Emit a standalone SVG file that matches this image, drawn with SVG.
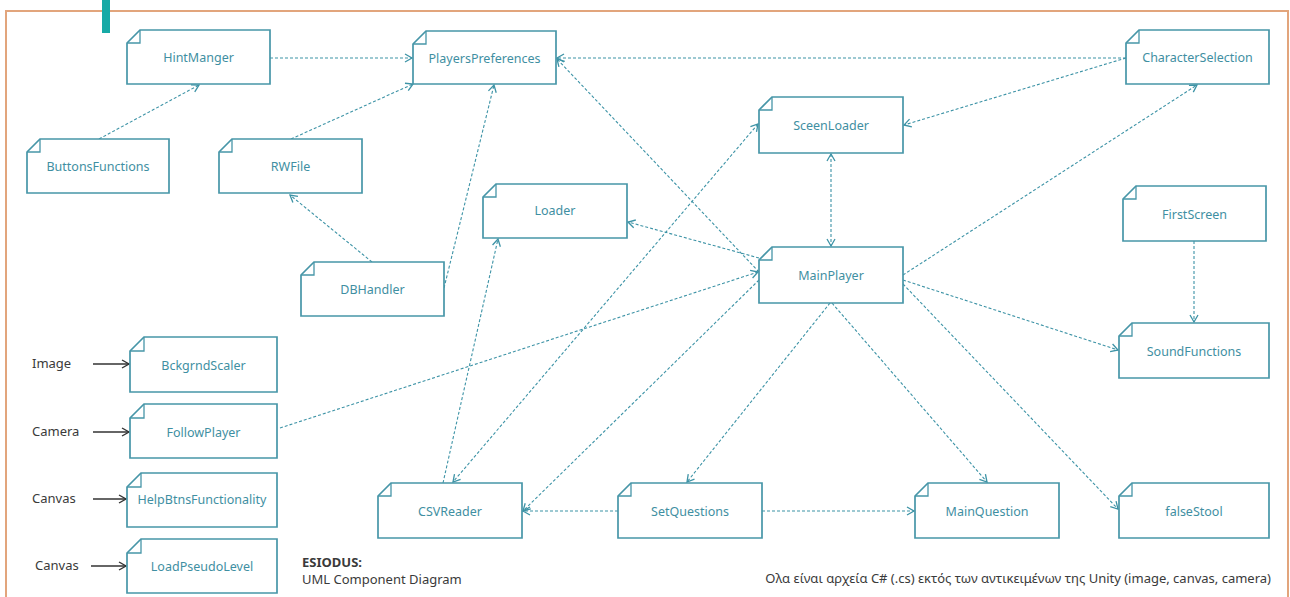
<svg xmlns="http://www.w3.org/2000/svg" width="1290" height="597" viewBox="0 0 1290 597">
  <defs>
    <marker id="arr" markerUnits="userSpaceOnUse" markerWidth="12" markerHeight="12" refX="8" refY="5" orient="auto-start-reverse" viewBox="0 0 12 10">
      <path d="M1,1 L8,5 L1,9" fill="none" stroke="#3d93a6" stroke-width="1.3"/>
    </marker>
    <marker id="arrDark" markerUnits="userSpaceOnUse" markerWidth="12" markerHeight="12" refX="8" refY="5" orient="auto" viewBox="0 0 12 10">
      <path d="M1,1 L8,5 L1,9" fill="none" stroke="#333" stroke-width="1.4"/>
    </marker>
  </defs>
  <style>
    .box { fill: #ffffff; stroke: #4796a8; stroke-width: 1.7; }
    .fold { fill: none; stroke: #4796a8; stroke-width: 1.3; }
    .lbl { font-family: "Noto Sans", "Open Sans", sans-serif; font-size: 12.5px; fill: #3f8fa2; text-anchor: middle; }
    .dep { fill: none; stroke: #3d93a6; stroke-width: 1.1; stroke-dasharray: 3 2; }
    .solid { fill: none; stroke: #333; stroke-width: 1.4; }
    .note { font-family: "Noto Sans", "Open Sans", sans-serif; font-size: 13px; fill: #3a3a3a; }
  </style>

  <rect width="1290" height="597" fill="#ffffff"/>
  <!-- outer frame and accent bar -->
  <path d="M6,600 V11 H1288 V600" fill="none" stroke="#e2a57c" stroke-width="2"/>
  <rect x="102" y="0" width="8" height="33" fill="#17aaa6"/>

  <!-- dependencies -->
  <g id="connectors">
    <line class="dep" x1="270" y1="58" x2="412" y2="58" marker-end="url(#arr)"/>
    <line class="dep" x1="99" y1="139" x2="199" y2="85" marker-end="url(#arr)"/>
    <line class="dep" x1="291" y1="139" x2="413" y2="84" marker-end="url(#arr)"/>
    <line class="dep" x1="372" y1="262" x2="290" y2="195" marker-end="url(#arr)"/>
    <line class="dep" x1="444" y1="288" x2="494" y2="85" marker-end="url(#arr)"/>
    <line class="dep" x1="1126" y1="58" x2="557" y2="58" marker-end="url(#arr)"/>
    <line class="dep" x1="1126" y1="58" x2="904" y2="125" marker-end="url(#arr)"/>
    <line class="dep" x1="759" y1="272" x2="557" y2="59" marker-end="url(#arr)"/>
    <line class="dep" x1="759" y1="258" x2="628" y2="222" marker-end="url(#arr)"/>
    <line class="dep" x1="280" y1="428" x2="758" y2="272" marker-end="url(#arr)"/>
    <line class="dep" x1="759" y1="280" x2="523" y2="511" marker-end="url(#arr)"/>
    <line class="dep" x1="443" y1="483" x2="498" y2="239" marker-end="url(#arr)"/>
    <line class="dep" x1="758" y1="124" x2="453" y2="482" marker-start="url(#arr)" marker-end="url(#arr)"/>
    <line class="dep" x1="831" y1="154" x2="831" y2="246" marker-start="url(#arr)" marker-end="url(#arr)"/>
    <line class="dep" x1="903" y1="275" x2="1197" y2="85" marker-end="url(#arr)"/>
    <line class="dep" x1="903" y1="280" x2="1118" y2="350" marker-end="url(#arr)"/>
    <line class="dep" x1="1194" y1="241" x2="1194" y2="322" marker-end="url(#arr)"/>
    <line class="dep" x1="903" y1="284" x2="1118" y2="509" marker-end="url(#arr)"/>
    <line class="dep" x1="832" y1="303" x2="987" y2="482" marker-end="url(#arr)"/>
    <line class="dep" x1="830" y1="303" x2="687" y2="482" marker-end="url(#arr)"/>
    <line class="dep" x1="762" y1="511" x2="914" y2="511" marker-end="url(#arr)"/>
    <line class="dep" x1="618" y1="511" x2="523" y2="511" marker-end="url(#arr)"/>
    <!-- Unity object bindings -->
    <line class="solid" x1="93" y1="364" x2="129" y2="364" marker-end="url(#arrDark)"/>
    <line class="solid" x1="93" y1="432" x2="129" y2="432" marker-end="url(#arrDark)"/>
    <line class="solid" x1="93" y1="499" x2="126" y2="499" marker-end="url(#arrDark)"/>
    <line class="solid" x1="91" y1="566" x2="126" y2="566" marker-end="url(#arrDark)"/>
  </g>

  <!-- components -->
  <g id="HintManger" transform="translate(127,30)">
    <path class="box" d="M0,13 L13,0 H143 V54 H0 Z"/><path class="fold" d="M0,13 H13 V0"/>
    <text class="lbl" x="71.5" y="31.5">HintManger</text>
  </g>
  <g id="ButtonsFunctions" transform="translate(27,139)">
    <path class="box" d="M0,13 L13,0 H142 V54 H0 Z"/><path class="fold" d="M0,13 H13 V0"/>
    <text class="lbl" x="71" y="32">ButtonsFunctions</text>
  </g>
  <g id="RWFile" transform="translate(219,139)">
    <path class="box" d="M0,13 L13,0 H143 V54 H0 Z"/><path class="fold" d="M0,13 H13 V0"/>
    <text class="lbl" x="71.5" y="32">RWFile</text>
  </g>
  <g id="DBHandler" transform="translate(301,262)">
    <path class="box" d="M0,13 L13,0 H143 V54 H0 Z"/><path class="fold" d="M0,13 H13 V0"/>
    <text class="lbl" x="71.5" y="32">DBHandler</text>
  </g>
  <g id="PlayersPreferences" transform="translate(413,31)">
    <path class="box" d="M0,13 L13,0 H143 V53 H0 Z"/><path class="fold" d="M0,13 H13 V0"/>
    <text class="lbl" x="71.5" y="31.5">PlayersPreferences</text>
  </g>
  <g id="CharacterSelection" transform="translate(1126,30)">
    <path class="box" d="M0,13 L13,0 H143 V54 H0 Z"/><path class="fold" d="M0,13 H13 V0"/>
    <text class="lbl" x="71.5" y="32">CharacterSelection</text>
  </g>
  <g id="SceenLoader" transform="translate(759,97)">
    <path class="box" d="M0,13 L13,0 H144 V56 H0 Z"/><path class="fold" d="M0,13 H13 V0"/>
    <text class="lbl" x="72" y="32.5">SceenLoader</text>
  </g>
  <g id="MainPlayer" transform="translate(759,247)">
    <path class="box" d="M0,13 L13,0 H144 V56 H0 Z"/><path class="fold" d="M0,13 H13 V0"/>
    <text class="lbl" x="72" y="32.5">MainPlayer</text>
  </g>
  <g id="Loader" transform="translate(483,184)">
    <path class="box" d="M0,13 L13,0 H144 V54 H0 Z"/><path class="fold" d="M0,13 H13 V0"/>
    <text class="lbl" x="72" y="31">Loader</text>
  </g>
  <g id="FirstScreen" transform="translate(1123,186)">
    <path class="box" d="M0,13 L13,0 H143 V55 H0 Z"/><path class="fold" d="M0,13 H13 V0"/>
    <text class="lbl" x="71.5" y="33">FirstScreen</text>
  </g>
  <g id="SoundFunctions" transform="translate(1119,323)">
    <path class="box" d="M0,13 L13,0 H150 V55 H0 Z"/><path class="fold" d="M0,13 H13 V0"/>
    <text class="lbl" x="75" y="33">SoundFunctions</text>
  </g>
  <g id="CSVReader" transform="translate(378,483)">
    <path class="box" d="M0,13 L13,0 H144 V55 H0 Z"/><path class="fold" d="M0,13 H13 V0"/>
    <text class="lbl" x="72" y="33">CSVReader</text>
  </g>
  <g id="SetQuestions" transform="translate(618,483)">
    <path class="box" d="M0,13 L13,0 H144 V55 H0 Z"/><path class="fold" d="M0,13 H13 V0"/>
    <text class="lbl" x="72" y="33">SetQuestions</text>
  </g>
  <g id="MainQuestion" transform="translate(915,483)">
    <path class="box" d="M0,13 L13,0 H144 V55 H0 Z"/><path class="fold" d="M0,13 H13 V0"/>
    <text class="lbl" x="72" y="33">MainQuestion</text>
  </g>
  <g id="falseStool" transform="translate(1119,483)">
    <path class="box" d="M0,13 L13,0 H150 V55 H0 Z"/><path class="fold" d="M0,13 H13 V0"/>
    <text class="lbl" x="75" y="33">falseStool</text>
  </g>
  <g id="BckgrndScaler" transform="translate(130,337)">
    <path class="box" d="M0,14 L14,0 H147 V55 H0 Z"/><path class="fold" d="M0,14 H14 V0"/>
    <text class="lbl" x="73.5" y="32.5">BckgrndScaler</text>
  </g>
  <g id="FollowPlayer" transform="translate(130,404)">
    <path class="box" d="M0,14 L14,0 H147 V54 H0 Z"/><path class="fold" d="M0,14 H14 V0"/>
    <text class="lbl" x="73.5" y="33">FollowPlayer</text>
  </g>
  <g id="HelpBtnsFunctionality" transform="translate(127,473)">
    <path class="box" d="M0,14 L14,0 H150 V54 H0 Z"/><path class="fold" d="M0,14 H14 V0"/>
    <text class="lbl" x="75" y="31">HelpBtnsFunctionality</text>
  </g>
  <g id="LoadPseudoLevel" transform="translate(127,539)">
    <path class="box" d="M0,14 L14,0 H150 V54 H0 Z"/><path class="fold" d="M0,14 H14 V0"/>
    <text class="lbl" x="75" y="32">LoadPseudoLevel</text>
  </g>

  <!-- Unity object labels -->
  <text class="note" x="32" y="368">Image</text>
  <text class="note" x="32" y="436">Camera</text>
  <text class="note" x="32" y="503">Canvas</text>
  <text class="note" x="35" y="570">Canvas</text>

  <!-- caption -->
  <text class="note" x="302" y="567" font-weight="bold">ESIODUS:</text>
  <text class="note" x="302" y="584">UML Component Diagram</text>
  <text class="note" x="1271" y="583" text-anchor="end">Ολα είναι αρχεία C# (.cs) εκτός των αντικειμένων της Unity (image, canvas, camera)</text>
</svg>
